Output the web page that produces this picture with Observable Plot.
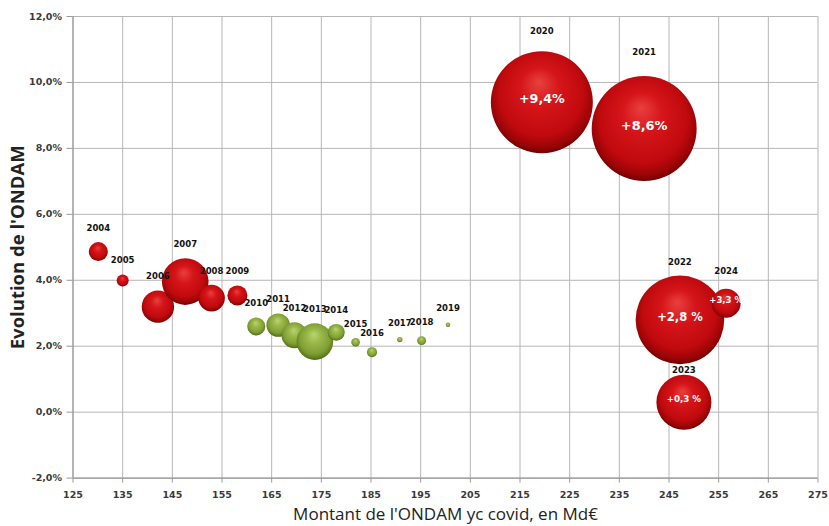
<!DOCTYPE html>
<html>
<head>
<meta charset="utf-8">
<script src="https://cdn.jsdelivr.net/npm/d3@7"></script>
<script src="https://cdn.jsdelivr.net/npm/@observablehq/plot@0.6"></script>
<style>
  body { margin: 0; background: #fff; }
  #chart svg [aria-label*="axis"] line,
  #chart svg [aria-label$="axis tick"] path { stroke: #9a9a9a; }
</style>
</head>
<body>
<div id="chart"></div>
<script>
// ---- Data ----
const annees    = [2004, 2005, 2006, 2007, 2008, 2009, 2010, 2011, 2012, 2013, 2014, 2015, 2016, 2017, 2018, 2019, 2020, 2021, 2022, 2023, 2024];
const montant   = [130.1, 135.0, 142.1, 147.6, 152.9, 158.1, 161.9, 166.3, 169.6, 173.7, 178.0, 181.9, 185.2, 190.8, 195.2, 200.5, 219.4, 240.0, 247.2, 248.0, 256.5];
const evolution = [4.87, 3.99, 3.20, 3.96, 3.46, 3.54, 2.60, 2.64, 2.33, 2.14, 2.42, 2.12, 1.82, 2.20, 2.17, 2.65, 9.40, 8.60, 2.80, 0.30, 3.30];
const taille    = [90, 36, 262, 543, 177, 100, 81, 137, 169, 335, 72, 18, 25, 7, 20, 5, 2601, 2756, 1962, 756, 210];
const periode   = ["rouge","rouge","rouge","rouge","rouge","rouge","vert","vert","vert","vert","vert","vert","vert","vert","vert","vert","rouge","rouge","rouge","rouge","rouge"];
const etiquettes = ["","","","","","","","","","","","","","","","","+9,4%","+8,6%","+2,8 %","+0,3 %","+3,3 %"];
const xTicks = [125, 135, 145, 155, 165, 175, 185, 195, 205, 215, 225, 235, 245, 255, 265, 275];
const yTicks = [-2, 0, 2, 4, 6, 8, 10, 12];
const titreX = "Montant de l'ONDAM yc covid, en Md€";
const titreY = "Evolution de l'ONDAM";

// layout: gap (px) between bubble top and its year label
const ecartEtiquette = [14,14,14,14,14,14,14,14,14,14,14,14,14,14,14,14,20,24,13,5,18];

const data = annees.map((a, i) => ({
  annee: a, x: montant[i], y: evolution[i], t: taille[i],
  p: periode[i], lab: etiquettes[i], gap: ecartEtiquette[i]
}));

const fmtY = d => d.toFixed(1).replace(".", ",") + "%";

function options(marks) {
  return {
    width: 829, height: 526,
    marginLeft: 72.5, marginRight: 11.5, marginTop: 16, marginBottom: 48.4,
    style: { fontFamily: "DejaVu Sans, sans-serif", fontSize: "9.5px", fontWeight: "bold", color: "#3a3a3a", background: "#fff", overflow: "visible" },
    x: { domain: [125, 275], ticks: xTicks, tickFormat: d => String(d), tickSize: 5, tickPadding: 8, label: null },
    y: { domain: [-2, 12], ticks: yTicks, tickFormat: fmtY, tickSize: 6, tickPadding: 5, label: null },
    r: { type: "sqrt", domain: [0, d3.max(taille)], range: [0, 52.5] },
    color: { type: "identity" },
    marks
  };
}

const bulles = Plot.dot(data, {
  x: "x", y: "y", r: "t",
  fill: d => d.p === "rouge" ? "url(#sphereRouge)" : "url(#sphereVert)",
  stroke: "none", sort: null
});

// first pass: read the scales
const probe = Plot.plot(options([bulles]));
const ys = probe.scale("y"), rs = probe.scale("r");
const yLin = d3.scaleLinear().domain(ys.domain).range(ys.range);
const rSq = d3.scaleSqrt().domain(rs.domain).range(rs.range);
const pxPerUnit = Math.abs(yLin(1) - yLin(0));

const chart = Plot.plot(options([
  Plot.ruleX(xTicks, { stroke: "#b6b6b6", strokeWidth: 1 }),
  Plot.ruleY(yTicks, { stroke: "#b6b6b6", strokeWidth: 1 }),
  Plot.ruleX([125], { stroke: "#8c8c8c" }),
  Plot.ruleY([-2], { stroke: "#8c8c8c" }),
  bulles,
  Plot.text(data, {
    x: "x",
    y: d => d.y + (rSq(d.t) + d.gap) / pxPerUnit,
    text: d => String(d.annee),
    fontSize: 8.5, fontWeight: "bold", fill: "#111", fontFamily: "DejaVu Sans, sans-serif"
  }),
  Plot.text(data.filter(d => d.lab), {
    x: "x", y: "y", text: "lab", dy: -3,
    fill: "#fff", fontWeight: "bold", fontFamily: "DejaVu Sans, sans-serif",
    fontSize: d => Math.max(8.5, 4 + rSq(d.t) * 0.17)
  }),
  Plot.text([titreX], {
    text: d => d, frameAnchor: "bottom", dy: 36, textAnchor: "middle", lineAnchor: "middle",
    fontSize: 17, fontWeight: "normal", fontFamily: "Open Sans, sans-serif", fill: "#222"
  }),
  Plot.text([titreY], {
    text: d => d, frameAnchor: "left", rotate: -90, dx: -55, textAnchor: "middle", lineAnchor: "middle",
    fontSize: 18.5, fontWeight: "bold", fontFamily: "Open Sans, sans-serif", fill: "#222"
  })
]));

d3.select(chart).insert("defs", ":first-child").html(`
  <radialGradient id="sphereRouge" cx="0.5" cy="0.45" r="0.55" fx="0.47" fy="0.3">
    <stop offset="0" stop-color="#e8413d"/>
    <stop offset="0.35" stop-color="#d51519"/>
    <stop offset="0.75" stop-color="#c00a0e"/>
    <stop offset="0.92" stop-color="#990406"/>
    <stop offset="1" stop-color="#6e0000"/>
  </radialGradient>
  <radialGradient id="sphereVert" cx="0.5" cy="0.45" r="0.55" fx="0.47" fy="0.3">
    <stop offset="0" stop-color="#b9d473"/>
    <stop offset="0.35" stop-color="#9bb84a"/>
    <stop offset="0.75" stop-color="#809f33"/>
    <stop offset="0.92" stop-color="#637f22"/>
    <stop offset="1" stop-color="#4a6416"/>
  </radialGradient>`);

document.getElementById("chart").appendChild(chart);
</script>
</body>
</html>
